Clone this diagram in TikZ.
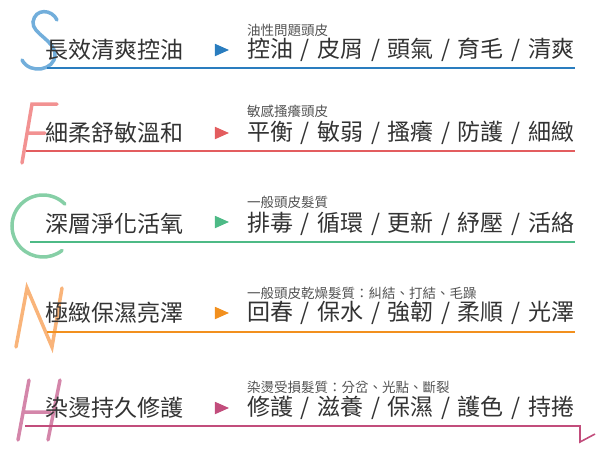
\documentclass[tikz,border=0pt]{standalone}
\usepackage{fontspec}
\setmainfont{Noto Sans CJK TC}
\usetikzlibrary{shapes.geometric}
\definecolor{azul}{HTML}{2A7DBF}
\definecolor{azulclaro}{HTML}{72AEDB}
\definecolor{rojo}{HTML}{E35D5F}
\definecolor{rojoclaro}{HTML}{F29292}
\definecolor{verde}{HTML}{4DBA86}
\definecolor{verdeclaro}{HTML}{86CFA6}
\definecolor{naranja}{HTML}{F2901E}
\definecolor{naranjaclaro}{HTML}{F9B47A}
\definecolor{rosa}{HTML}{C24D7C}
\definecolor{rosaclaro}{HTML}{D486AA}
\definecolor{texto}{HTML}{333333}
\newcommand{\barra}{\hspace{7.6pt}/\hspace{7.6pt}}
\begin{document}
\begin{tikzpicture}[x=1pt,y=-1pt,
    titulo/.style={anchor=west,inner sep=0pt,text=texto,font=\fontsize{23}{23}\selectfont},
    lista/.style={anchor=west,inner sep=0pt,text=texto,font=\fontsize{23}{23}\selectfont},
    nota/.style={anchor=west,inner sep=0pt,text=texto!85,font=\fontsize{13.5}{13.5}\selectfont},
    flecha/.style={isosceles triangle,isosceles triangle stretches,minimum height=14pt,minimum width=12.5pt,inner sep=0pt},
    letra/.style={line width=3.5pt,line cap=round},
    raya/.style={line width=1.6pt}]
    \useasboundingbox (0,0) rectangle (600,453);
    % letras de fondo
    \draw[letra,azulclaro] (57,20) .. controls (52,9) and (35,8) .. (33,22) .. controls (32,34) and (55,40) .. (55,55) .. controls (55,70) and (30,75) .. (22,60);
    \draw[letra,rojoclaro] (57,104) -- (32,104) -- (22,163) (27,133) -- (45,133);
    \draw[letra,verdeclaro] (43,226) ++(45:31pt) arc[start angle=45,end angle=308,radius=31pt];
    \draw[letra,naranjaclaro] (16,347) -- (27,288) -- (52,347) -- (62,288);
    \draw[letra,rosaclaro] (29,380) -- (18,440) (60,380) -- (48,440) (25,412) -- (50,412);
    % fila 1
    \node[titulo] (s-titulo) at (45,50) {長效清爽控油};
    \node[flecha,fill=azul] (s-flecha) at (219,50) {};
    \node[nota] (s-nota) at (247,30) {油性問題頭皮};
    \node[lista] (s-lista) at (247,50) {控油\barra 皮屑\barra 頭氣\barra 育毛\barra 清爽};
    \coordinate (s-ini) at (47,68);
    \coordinate (s-fin) at (575,68);
    \draw[raya,azul] (s-ini) -- (s-fin);
    % fila 2
    \node[titulo] (f-titulo) at (45,133) {細柔舒敏溫和};
    \node[flecha,fill=rojo] (f-flecha) at (219,133) {};
    \node[nota] (f-nota) at (247,111) {敏感搔癢頭皮};
    \node[lista] (f-lista) at (247,133) {平衡\barra 敏弱\barra 搔癢\barra 防護\barra 細緻};
    \coordinate (f-ini) at (26,151);
    \coordinate (f-fin) at (575,151);
    \draw[raya,rojo] (f-ini) -- (f-fin);
    % fila 3
    \node[titulo] (c-titulo) at (45,224) {深層淨化活氧};
    \node[flecha,fill=verde] (c-flecha) at (219,222) {};
    \node[nota] (c-nota) at (247,202) {一般頭皮髮質};
    \node[lista] (c-lista) at (247,224) {排毒\barra 循環\barra 更新\barra 紓壓\barra 活絡};
    \coordinate (c-ini) at (30,242);
    \coordinate (c-fin) at (575,242);
    \draw[raya,verde] (c-ini) -- (c-fin);
    % fila 4
    \node[titulo] (n-titulo) at (45,313) {極緻保濕亮澤};
    \node[flecha,fill=naranja] (n-flecha) at (219,313) {};
    \node[nota] (n-nota) at (247,293) {一般頭皮乾燥髮質：糾結、打結、毛躁};
    \node[lista] (n-lista) at (247,313) {回春\barra 保水\barra 強韌\barra 柔順\barra 光澤};
    \coordinate (n-ini) at (47,332);
    \coordinate (n-fin) at (575,332);
    \draw[raya,naranja] (n-ini) -- (n-fin);
    % fila 5
    \node[titulo] (h-titulo) at (45,408) {染燙持久修護};
    \node[flecha,fill=rosa] (h-flecha) at (219,408) {};
    \node[nota] (h-nota) at (247,387) {染燙受損髮質：分岔、光點、斷裂};
    \node[lista] (h-lista) at (247,408) {修護\barra 滋養\barra 保濕\barra 護色\barra 持捲};
    \coordinate (h-ini) at (25,426);
    \coordinate (h-esq) at (580,426);
    \coordinate (h-fin) at (595,434);
    \draw[raya,rosa] (h-ini) -- (h-esq) -- ++(0,16) -- (h-fin);
\end{tikzpicture}
\end{document}
